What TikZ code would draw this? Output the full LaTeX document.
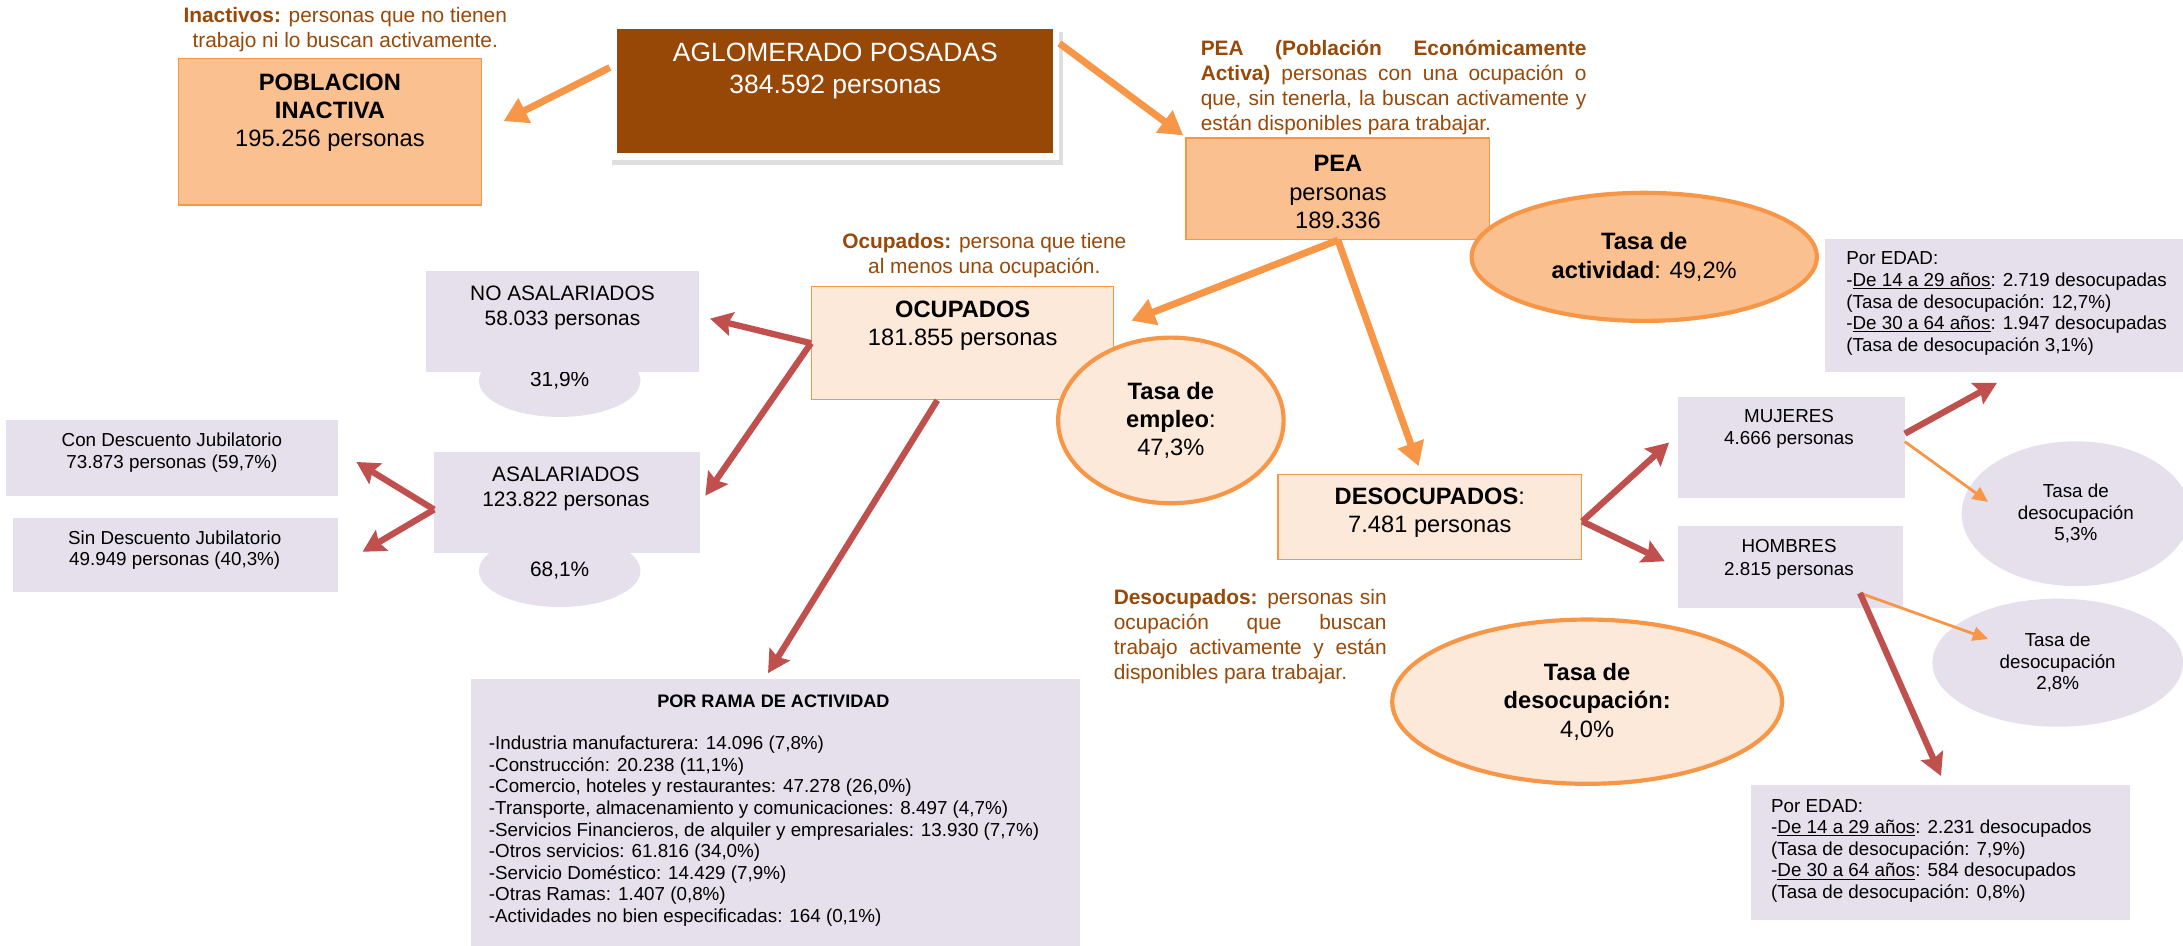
\documentclass[tikz,border=0pt]{standalone}
\usepackage{fontspec}
\setmainfont{Liberation Sans}
\usetikzlibrary{arrows.meta,shapes.geometric,shadows}
\definecolor{cafe}{HTML}{974706}
\definecolor{letra}{HTML}{984807}
\definecolor{naranja}{HTML}{F79646}
\definecolor{durazno}{HTML}{FAC090}
\definecolor{crema}{HTML}{FDE9D9}
\definecolor{lila}{HTML}{E5E0EC}
\definecolor{rojo}{HTML}{C0504D}

\begin{document}
\begin{tikzpicture}[x=1pt, y=-1pt,
  cajaD/.style={rectangle, fill=durazno, draw=naranja, line width=1pt, inner sep=0pt},
  cajaC/.style={rectangle, fill=crema, draw=naranja, line width=1pt, inner sep=0pt},
  cajaL/.style={rectangle, fill=lila, inner sep=0pt},
  f19/.style={font=\fontsize{19}{23}\selectfont, align=center},
  f17/.style={font=\fontsize{17}{20.3}\selectfont, align=center},
  f15/.style={font=\fontsize{15}{18}\selectfont, align=center},
  f14/.style={font=\fontsize{13.5}{16.3}\selectfont, align=center},
  f13/.style={font=\fontsize{13.5}{15.5}\selectfont},
  defin/.style={text=letra, font=\fontsize{15}{18}\selectfont},
  tasa/.style={ellipse, draw=naranja, line width=3pt, inner sep=0pt,
    font=\fontsize{17}{20.3}\selectfont, align=center},
  burbuja/.style={ellipse, fill=lila, inner sep=0pt, align=center},
  flechaN/.style={draw=naranja, line width=5pt, -{Triangle[length=17pt,width=19pt]}},
  flechaR/.style={draw=rojo, line width=4.5pt, -{Stealth[length=16pt,width=17pt,inset=2.5pt]}},
  flechaF/.style={draw=naranja, line width=2pt, -{Triangle[length=11pt,width=10pt]}}]
\useasboundingbox (0,0) rectangle (1568,679);

% poblacion inactiva
\node[defin, align=center] (dInact) at (248,21) {\textbf{Inactivos:} personas que no tienen\\trabajo ni lo buscan activamente.};
\node[cajaD, minimum width=218pt, minimum height=105pt] (inact) at (237,94.7) {};
\node[f17] (inactT) at (237,81) {\textbf{POBLACION}\\\textbf{INACTIVA}\\195.256 personas};

% aglomerado
\node[rectangle, fill=cafe, draw=white, line width=5pt, minimum width=318pt, minimum height=94pt,
  drop shadow={shadow xshift=2pt, shadow yshift=-5pt, shadow scale=1.02, opacity=0.25}] (aglo) at (599.5,65.5) {};
\node[f19, text=white] (agloT) at (600,51) {AGLOMERADO POSADAS\\384.592 personas};

% PEA
\node[defin, text width=277pt, align=justify, inner sep=0pt] (dPEA) at (1001,63) {\textbf{PEA (Población Económicamente}\linebreak \textbf{Activa)} personas con una ocupación o\linebreak que, sin tenerla, la buscan activamente y\linebreak están disponibles para trabajar.};
\node[cajaD, minimum width=218pt, minimum height=73pt] (pea) at (961,135.5) {};
\node[f17] (peaT) at (961,138) {\textbf{PEA}\\personas\\189.336};
\node[tasa, fill=durazno, minimum width=248pt, minimum height=92pt] (tAct) at (1181,184.5) {\textbf{Tasa de}\\\textbf{actividad}: 49,2\%};

% por edad, mujeres
\node[cajaL, minimum width=257pt, minimum height=96pt] (eMuj) at (1439.5,219.5) {};
\node[f13, align=left, anchor=west, inner sep=0pt] (eMujT) at (1326,218) {Por EDAD:\\-\underline{De 14 a 29 años}: 2.719 desocupadas\\(Tasa de desocupación: 12,7\%)\\-\underline{De 30 a 64 años}: 1.947 desocupadas\\(Tasa de desocupación 3,1\%)};

% ocupados
\node[defin, align=center] (dOcup) at (707,183.5) {\textbf{Ocupados:} persona que tiene\\al menos una ocupación.};
\node[cajaC, minimum width=217pt, minimum height=81pt] (ocup) at (691.5,246.5) {};
\node[f17] (ocupT) at (691.5,234) {\textbf{OCUPADOS}\\181.855 personas};
\node[tasa, fill=crema, minimum width=162pt, minimum height=119pt] (tEmp) at (841,302) {\textbf{Tasa de}\\\textbf{empleo}:\\47,3\%};

% asalariados
\node[burbuja, f15, minimum width=116pt, minimum height=52pt] (pNoAs) at (402,273.5) {31,9\%};
\node[cajaL, minimum width=196pt, minimum height=72pt] (noAs) at (404,231) {};
\node[f15] (noAsT) at (404,221) {NO ASALARIADOS\\58.033 personas};
\node[burbuja, f15, minimum width=116pt, minimum height=52pt] (pAs) at (402,410) {68,1\%};
\node[cajaL, minimum width=191pt, minimum height=72pt] (asal) at (407.5,361) {};
\node[f15] (asalT) at (406.5,351) {ASALARIADOS\\123.822 personas};
\node[cajaL, minimum width=239pt, minimum height=54pt] (conD) at (123.5,329) {};
\node[f13, align=center] (conDT) at (123.5,325) {Con Descuento Jubilatorio\\73.873 personas (59,7\%)};
\node[cajaL, minimum width=234pt, minimum height=53pt] (sinD) at (126,398.5) {};
\node[f13, align=center] (sinDT) at (125.5,395) {Sin Descuento Jubilatorio\\49.949 personas (40,3\%)};

% por rama
\node[cajaL, minimum width=438pt, minimum height=192pt] (rama) at (557,584) {};
\node[font=\bfseries\fontsize{13}{15}\selectfont] (ramaT) at (555.5,504) {POR RAMA DE ACTIVIDAD};
\node[f13, align=left, anchor=west, inner sep=0pt] (ramaL) at (351,597) {-Industria manufacturera: 14.096 (7,8\%)\\-Construcción: 20.238 (11,1\%)\\-Comercio, hoteles y restaurantes: 47.278 (26,0\%)\\-Transporte, almacenamiento y comunicaciones: 8.497 (4,7\%)\\-Servicios Financieros, de alquiler y empresariales: 13.930 (7,7\%)\\-Otros servicios: 61.816 (34,0\%)\\-Servicio Doméstico: 14.429 (7,9\%)\\-Otras Ramas: 1.407 (0,8\%)\\-Actividades no bien especificadas: 164 (0,1\%)};

% desocupados
\node[cajaC, minimum width=218pt, minimum height=61pt] (desoc) at (1027,371.5) {};
\node[f17] (desocT) at (1027,368.5) {\textbf{DESOCUPADOS}:\\7.481 personas};
\node[defin, text width=196pt, align=justify, inner sep=0pt] (dDesoc) at (898,457) {\textbf{Desocupados:} personas sin\linebreak ocupación que buscan\linebreak trabajo activamente y están\linebreak disponibles para trabajar.};
\node[tasa, fill=crema, minimum width=280pt, minimum height=118pt] (tDes) at (1140,504) {\textbf{Tasa de}\\\textbf{desocupación:}\\4,0\%};

% mujeres y hombres
\node[cajaL, minimum width=163pt, minimum height=73pt] (muj) at (1286.5,321.5) {};
\node[f14] (mujT) at (1285,308) {MUJERES\\4.666 personas};
\node[cajaL, minimum width=162pt, minimum height=59pt] (hom) at (1286,407.5) {};
\node[f14] (homT) at (1285,402) {HOMBRES\\2.815 personas};
\node[burbuja, f13, minimum width=164pt, minimum height=104pt] (tMuj) at (1491,369) {Tasa de\\desocupación\\5,3\%};
\node[burbuja, f13, minimum width=180pt, minimum height=92pt] (tHom) at (1478,476) {Tasa de\\desocupación\\2,8\%};
\node[cajaL, minimum width=272pt, minimum height=97pt] (eHom) at (1394,612.5) {};
\node[f13, align=left, anchor=west, inner sep=0pt] (eHomT) at (1272,611) {Por EDAD:\\-\underline{De 14 a 29 años}: 2.231 desocupados\\(Tasa de desocupación: 7,9\%)\\-\underline{De 30 a 64 años}: 584 desocupados\\(Tasa de desocupación: 0,8\%)};

% flechas
\draw[flechaN, shorten >=17pt] (aglo.174) -- (inact.east);
\draw[flechaN, shorten >=2pt] (aglo.12) -- (pea.north west);
\draw[flechaN, shorten >=13pt] (pea.south) -- (ocup.6);
\draw[flechaN, shorten >=6pt] (pea.south) -- ([xshift=-6pt]desoc.north);
\draw[flechaR, shorten >=8pt] (ocup.west) -- ([yshift=4pt]noAs.east);
\draw[flechaR, shorten >=6pt] (ocup.west) -- (asal.east);
\draw[flechaR, shorten >=5pt] (ocup.246) -- ([xshift=-8pt]rama.north);
\draw[flechaR, shorten >=15pt] ([yshift=-5pt]asal.west) -- ([yshift=5pt]conD.east);
\draw[flechaR, shorten >=20pt] ([yshift=-5pt]asal.west) -- ([yshift=-8pt]sinD.east);
\draw[flechaR, shorten >=8pt] ([yshift=-3pt]desoc.east) -- ([yshift=9pt]muj.west);
\draw[flechaR, shorten >=10pt] ([yshift=-3pt]desoc.east) -- (hom.west);
\draw[flechaR, shorten >=15pt] (muj.7) -- ([xshift=8pt]eMuj.south);
\draw[flechaF] (muj.3) -- ([shift={(-63,-8.5)}]tMuj.center);
\draw[flechaF] ([shift={(50,18.5)}]hom.center) -- ([shift={(-50,-17)}]tHom.center);
\draw[flechaR, shorten >=7pt] ([shift={(50,18.5)}]hom.center) -- ([xshift=3pt]eHom.north);
\end{tikzpicture}
\end{document}
